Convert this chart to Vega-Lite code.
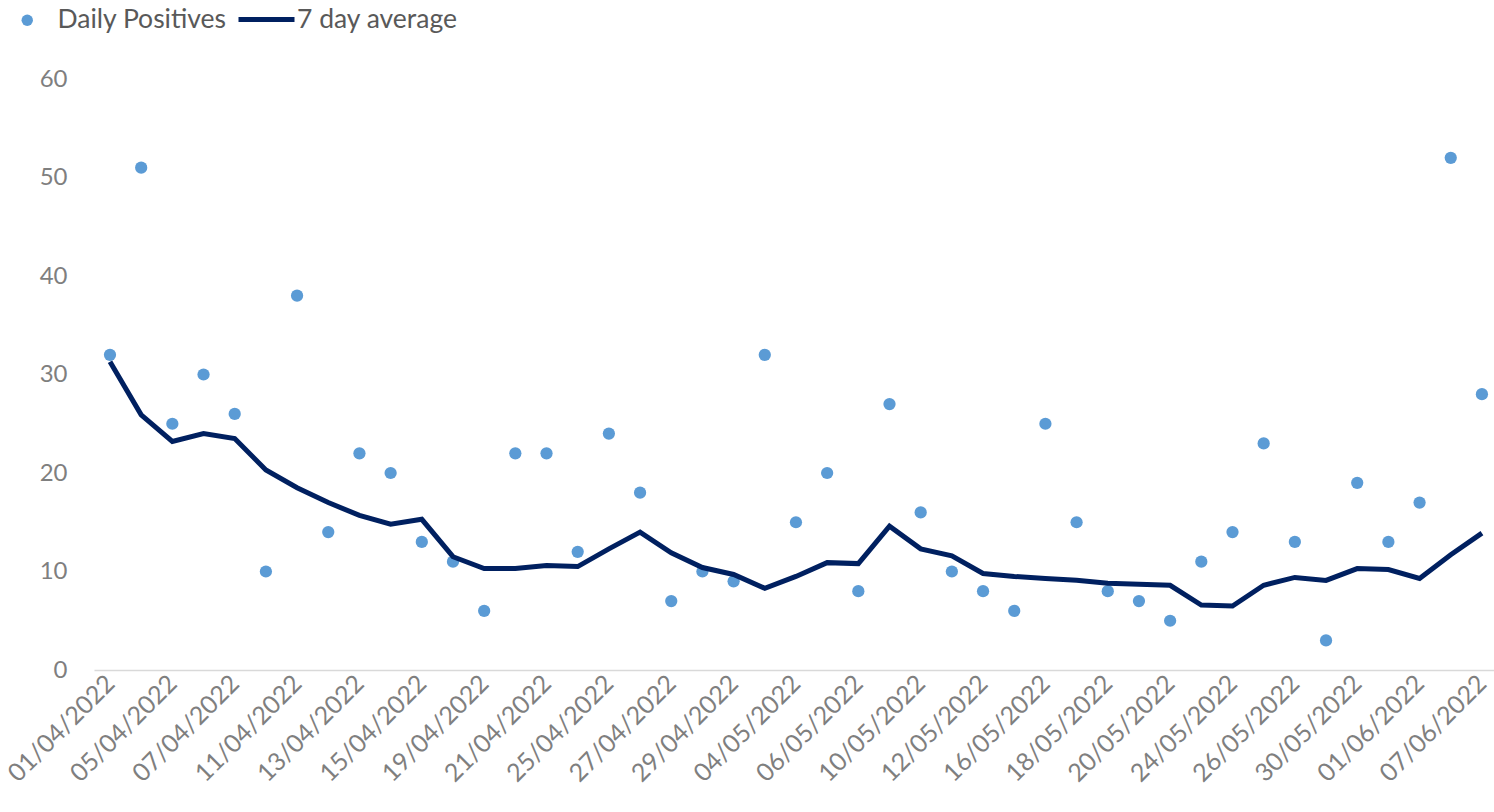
{
  "$schema": "https://vega.github.io/schema/vega-lite/v6.json",
  "width": 1400,
  "height": 591,
  "autosize": {"type": "none"},
  "padding": {"left": 94, "top": 79, "right": 0, "bottom": 142},
  "background": "white",
  "config": {
    "view": {"stroke": null},
    "font": "Lato",
    "axis": {"labelFont": "Lato", "titleFont": "Lato"},
    "legend": {"labelFont": "Lato", "labelLimit": 400}
  },
  "data": {
    "values": [
      {"date": "01/04/2022", "positives": 32, "avg": 31.3},
      {"date": "04/04/2022", "positives": 51, "avg": 25.9},
      {"date": "05/04/2022", "positives": 25, "avg": 23.2},
      {"date": "06/04/2022", "positives": 30, "avg": 24.0},
      {"date": "07/04/2022", "positives": 26, "avg": 23.5},
      {"date": "08/04/2022", "positives": 10, "avg": 20.3},
      {"date": "11/04/2022", "positives": 38, "avg": 18.5},
      {"date": "12/04/2022", "positives": 14, "avg": 17.0},
      {"date": "13/04/2022", "positives": 22, "avg": 15.7},
      {"date": "14/04/2022", "positives": 20, "avg": 14.8},
      {"date": "15/04/2022", "positives": 13, "avg": 15.3},
      {"date": "18/04/2022", "positives": 11, "avg": 11.5},
      {"date": "19/04/2022", "positives": 6, "avg": 10.3},
      {"date": "20/04/2022", "positives": 22, "avg": 10.3},
      {"date": "21/04/2022", "positives": 22, "avg": 10.6},
      {"date": "22/04/2022", "positives": 12, "avg": 10.5},
      {"date": "25/04/2022", "positives": 24, "avg": 12.3},
      {"date": "26/04/2022", "positives": 18, "avg": 14.0},
      {"date": "27/04/2022", "positives": 7, "avg": 11.9},
      {"date": "28/04/2022", "positives": 10, "avg": 10.4},
      {"date": "29/04/2022", "positives": 9, "avg": 9.7},
      {"date": "03/05/2022", "positives": 32, "avg": 8.3},
      {"date": "04/05/2022", "positives": 15, "avg": 9.5},
      {"date": "05/05/2022", "positives": 20, "avg": 10.9},
      {"date": "06/05/2022", "positives": 8, "avg": 10.8},
      {"date": "09/05/2022", "positives": 27, "avg": 14.6},
      {"date": "10/05/2022", "positives": 16, "avg": 12.3},
      {"date": "11/05/2022", "positives": 10, "avg": 11.6},
      {"date": "12/05/2022", "positives": 8, "avg": 9.8},
      {"date": "13/05/2022", "positives": 6, "avg": 9.5},
      {"date": "16/05/2022", "positives": 25, "avg": 9.3},
      {"date": "17/05/2022", "positives": 15, "avg": 9.1},
      {"date": "18/05/2022", "positives": 8, "avg": 8.8},
      {"date": "19/05/2022", "positives": 7, "avg": 8.7},
      {"date": "20/05/2022", "positives": 5, "avg": 8.6},
      {"date": "23/05/2022", "positives": 11, "avg": 6.6},
      {"date": "24/05/2022", "positives": 14, "avg": 6.5},
      {"date": "25/05/2022", "positives": 23, "avg": 8.6},
      {"date": "26/05/2022", "positives": 13, "avg": 9.4},
      {"date": "27/05/2022", "positives": 3, "avg": 9.1},
      {"date": "30/05/2022", "positives": 19, "avg": 10.3},
      {"date": "31/05/2022", "positives": 13, "avg": 10.2},
      {"date": "01/06/2022", "positives": 17, "avg": 9.3},
      {"date": "06/06/2022", "positives": 52, "avg": 11.7},
      {"date": "07/06/2022", "positives": 28, "avg": 13.9}
    ]
  },
  "encoding": {
    "x": {
      "field": "date",
      "type": "ordinal",
      "sort": null,
      "scale": {"type": "point", "padding": 0.45, "align": 0.57},
      "axis": {
        "title": null,
        "values": ["01/04/2022","05/04/2022","07/04/2022","11/04/2022","13/04/2022","15/04/2022","19/04/2022","21/04/2022","25/04/2022","27/04/2022","29/04/2022","04/05/2022","06/05/2022","10/05/2022","12/05/2022","16/05/2022","18/05/2022","20/05/2022","24/05/2022","26/05/2022","30/05/2022","01/06/2022","07/06/2022"],
        "labelAngle": -45,
        "labelAlign": "right",
        "labelBaseline": "middle",
        "labelFontSize": 25,
        "labelColor": "#7F7F7F",
        "labelPadding": 9,
        "ticks": false,
        "domainColor": "#D9D9D9",
        "domainWidth": 1.5,
        "grid": false,
        "labelOverlap": false
      }
    }
  },
  "layer": [
    {
      "mark": {"type": "point", "filled": true, "size": 150, "opacity": 1},
      "encoding": {
        "y": {
          "field": "positives",
          "type": "quantitative",
          "scale": {"domain": [0, 60], "nice": false},
          "axis": {
            "title": null,
            "values": [0, 10, 20, 30, 40, 50, 60],
            "domain": false,
            "ticks": false,
            "grid": false,
            "labelFontSize": 24,
            "labelColor": "#7F7F7F",
            "labelPadding": 27
          }
        },
        "color": {
          "datum": "Daily Positives",
          "type": "nominal",
          "scale": {"domain": ["Daily Positives"], "range": ["#5B9BD5"]},
          "legend": {
            "title": null,
            "orient": "none",
            "legendX": -80,
            "legendY": -72,
            "symbolType": "circle",
            "symbolSize": 130,
            "symbolOpacity": 1,
            "labelFontSize": 26.5,
            "labelColor": "#595959",
            "labelOffset": 17,
            "labelLimit": 400
          }
        }
      }
    },
    {
      "mark": {"type": "line", "strokeWidth": 5, "strokeJoin": "miter"},
      "encoding": {
        "y": {"field": "avg", "type": "quantitative"},
        "color": {
          "datum": "7 day average",
          "type": "nominal",
          "scale": {"domain": ["7 day average"], "range": ["#002060"]},
          "legend": {
            "title": null,
            "orient": "none",
            "legendX": 142,
            "legendY": -90,
            "symbolType": "stroke",
            "symbolSize": 3136,
            "symbolStrokeWidth": 5,
            "labelFontSize": 26.5,
            "labelColor": "#595959",
            "labelOffset": 0,
            "labelLimit": 400
          }
        }
      }
    }
  ],
  "resolve": {"scale": {"color": "independent"}}
}
